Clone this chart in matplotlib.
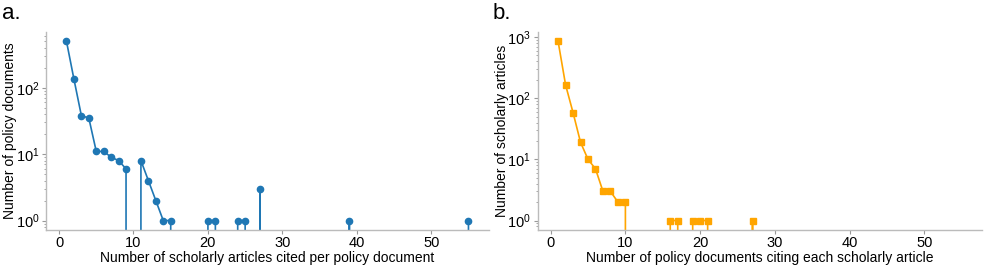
import numpy as np
import matplotlib.pyplot as plt

plt.rcParams['font.family'] = ['Liberation Sans', 'DejaVu Sans']

# panel a: scholarly articles cited per policy document (x = 1..55)
cited_per_doc = np.arange(1, 56)
n_policy_docs = [500, 135, 38, 35, 11, 11, 9, 8, 6, 0,
                 8, 4, 2, 1, 1, 0, 0, 0, 0, 1,
                 1, 0, 0, 1, 1, 0, 3, 0, 0, 0,
                 0, 0, 0, 0, 0, 0, 0, 0, 1, 0,
                 0, 0, 0, 0, 0, 0, 0, 0, 0, 0,
                 0, 0, 0, 0, 1]

# panel b: policy documents citing each scholarly article (x = 1..55)
docs_per_article = np.arange(1, 56)
n_articles = [850, 165, 58, 19, 10, 7, 3, 3, 2, 2,
              0, 0, 0, 0, 0, 1, 1, 0, 1, 1,
              1, 0, 0, 0, 0, 0, 1, 0, 0, 0,
              0, 0, 0, 0, 0, 0, 0, 0, 0, 0,
              0, 0, 0, 0, 0, 0, 0, 0, 0, 0,
              0, 0, 0, 0, 0]

fig = plt.figure(figsize=(9.87, 2.7), dpi=100)
ax1 = fig.add_axes([0.047, 0.15, 0.448, 0.73])
ax2 = fig.add_axes([0.545, 0.15, 0.45, 0.73])


def style(ax):
    ax.set_yscale('log')
    for s in ['top', 'right']:
        ax.spines[s].set_visible(False)
    for s in ['left', 'bottom']:
        ax.spines[s].set_color('#bbbbbb')
        ax.spines[s].set_linewidth(1.0)
    ax.tick_params(which='major', length=3, color='#999999', labelsize=10.5, pad=2)
    ax.tick_params(which='minor', length=1.5, color='#999999')
    ax.set_xticks([0, 10, 20, 30, 40, 50])


ax1.plot(cited_per_doc, n_policy_docs, '-o', color='#1f77b4', lw=1.2, ms=4.5)
style(ax1)
ax1.set_xlabel('Number of scholarly articles cited per policy document', fontsize=10, labelpad=0.5)
ax1.set_ylabel('Number of policy documents', fontsize=10, labelpad=-1)

ax2.plot(docs_per_article, n_articles, '-s', color='#ffa500', lw=1.2, ms=5)
style(ax2)
ax2.set_xlabel('Number of policy documents citing each scholarly article', fontsize=10, labelpad=0.5)
ax2.set_ylabel('Number of scholarly articles', fontsize=10, labelpad=-1)

fig.text(0.002, 0.93, 'a.', fontsize=16)
fig.text(0.499, 0.93, 'b.', fontsize=16)

fig.savefig('out.png', dpi=100)
